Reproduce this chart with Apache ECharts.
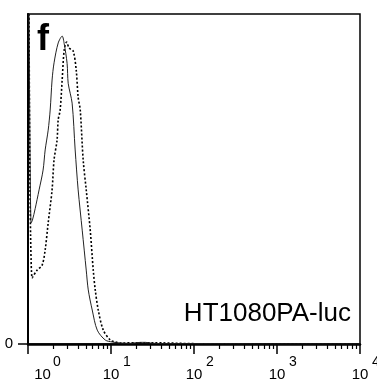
<!DOCTYPE html>
<html><head><meta charset="utf-8">
<script src="https://cdn.jsdelivr.net/npm/echarts@6/dist/echarts.min.js"></script>
<style>html,body{margin:0;padding:0;background:#fff}#c{width:377px;height:379px}</style>
</head><body><div id="c"></div>
<script>
// Solid histogram: fluorescence (log scale) vs relative count
const solidX = [1.03, 1.09, 1.13, 1.22, 1.36, 1.52, 1.61, 1.75, 1.85, 1.95, 2.06, 2.31, 2.58, 2.73, 2.96, 3.05, 3.40, 3.70, 4.02, 4.50, 5.03, 5.32, 5.94, 6.83, 8.53, 10.4, 13.0, 17.0, 22.6, 26.0, 30.0, 40.0, 100, 1000, 10000];
const solidY = [100, 36.7, 37.5, 41.0, 46.7, 52.7, 58.8, 64.8, 70.9, 80.0, 85.2, 91.2, 93.3, 91.0, 85.0, 79.0, 73.0, 58.8, 46.7, 34.5, 22.4, 16.4, 10.3, 4.2, 1.2, 0.6, 0.3, 0.2, 0.5, 0.5, 0.3, 0.1, 0.1, 0, 0];
// Dashed histogram
const dashX = [1.03, 1.12, 1.29, 1.48, 1.61, 1.75, 1.95, 2.06, 2.24, 2.31, 2.44, 2.58, 2.73, 2.92, 3.13, 3.50, 3.81, 4.02, 4.26, 4.62, 5.03, 5.62, 6.11, 6.46, 7.02, 8.07, 9.81, 11.3, 13.0, 22.6, 30.0, 100, 1000, 10000];
const dashY = [100, 20.0, 22.4, 23.9, 28.5, 36.7, 46.7, 55.8, 61.8, 67.9, 70.9, 80.0, 89.1, 91.5, 89.7, 88.8, 83.0, 74.8, 70.9, 55.8, 46.7, 34.5, 22.4, 16.4, 10.3, 4.2, 1.2, 0.6, 0.3, 0.4, 0.4, 0.1, 0, 0];
const majorTicks = [1, 10, 100, 1000, 10000];
const minorTicks = [2,3,4,5,6,7,8,9,20,30,40,50,60,70,80,90,200,300,400,500,600,700,800,900,2000,3000,4000,5000,6000,7000,8000,9000];
const yTicks = [0];
const panelLabel = 'f';
const sampleLabel = 'HT1080PA-luc';

const FONT = '"Liberation Sans", Arial, sans-serif';
const chart = echarts.init(document.getElementById('c'), null, {renderer: 'canvas'});
const zip = (xs, ys) => xs.map((x, i) => [x, ys[i]]);
const exp10 = v => Math.round(Math.log10(v));
chart.setOption({
  animation: false,
  backgroundColor: '#fff',
  grid: {left: 28, right: 17, top: 14, bottom: 35, outerBoundsMode: 'none', containLabel: false,
         show: true, borderColor: '#000', borderWidth: 1.5, backgroundColor: 'transparent'},
  xAxis: [{
    // major ticks + base "10" labels
    type: 'log', logBase: 10, min: 1, max: 10000, position: 'bottom',
    axisLine: {show: true, lineStyle: {color: '#000', width: 2.5}},
    axisTick: {show: true, inside: false, length: 10, customValues: majorTicks, lineStyle: {color: '#000', width: 1.5}},
    axisLabel: {
      show: true, customValues: majorTicks, margin: 26, align: 'center', showMinLabel: true, showMaxLabel: true,
      formatter: v => exp10(v) === 0 ? '{f|10}' : '{o|10}',
      rich: {
        f: {fontFamily: FONT, fontSize: 15, color: '#000', lineHeight: 9, padding: [0,0,0,29]},
        o: {fontFamily: FONT, fontSize: 15, color: '#000', lineHeight: 9, padding: [0,0,0,0]}
      }
    },
    splitLine: {show: false}
  }, {
    // minor ticks + exponent labels
    type: 'log', logBase: 10, min: 1, max: 10000, position: 'bottom', gridIndex: 0,
    axisLine: {show: false},
    axisTick: {show: true, inside: false, length: 5, customValues: minorTicks, lineStyle: {color: '#000', width: 1.2}},
    axisLabel: {
      show: true, customValues: majorTicks, margin: 12, align: 'left', showMinLabel: true, showMaxLabel: true,
      formatter: v => exp10(v) === 0 ? '{f|0}' : '{o|' + exp10(v) + '}',
      rich: {
        f: {fontFamily: FONT, fontSize: 14, color: '#000', lineHeight: 12, padding: [0,0,0,25]},
        o: {fontFamily: FONT, fontSize: 14, color: '#000', lineHeight: 12, padding: [0,0,0,12]}
      }
    },
    splitLine: {show: false}
  }],
  yAxis: [{
    type: 'value', min: 0, max: 100,
    axisLine: {show: true, lineStyle: {color: '#000', width: 2}},
    axisTick: {show: true, length: 10, customValues: yTicks, lineStyle: {color: '#000', width: 1.5}},
    axisLabel: {show: true, customValues: yTicks, margin: 15, fontFamily: FONT, fontSize: 15, color: '#000', verticalAlign: 'middle', lineHeight: 15, padding: [0,0,12,0], showMinLabel: true},
    splitLine: {show: false}
  }],
  series: [{
    type: 'line', xAxisIndex: 0, data: zip(dashX, dashY), showSymbol: false, smooth: 0.3, clip: true,
    lineStyle: {color: '#000', width: 1.6, type: [2, 2]}
  }, {
    type: 'line', xAxisIndex: 0, data: zip(solidX, solidY), showSymbol: false, smooth: 0.3, clip: true,
    lineStyle: {color: '#222', width: 1}
  }],
  graphic: [{
    type: 'text', left: 37, top: 22, style: {text: panelLabel, font: 'bold 36px ' + FONT, fill: '#000'}
  }, {
    type: 'text', x: 351, y: 314, style: {text: sampleLabel, font: '26px ' + FONT, fill: '#000', align: 'right', verticalAlign: 'middle'}
  }]
});
</script></body></html>
